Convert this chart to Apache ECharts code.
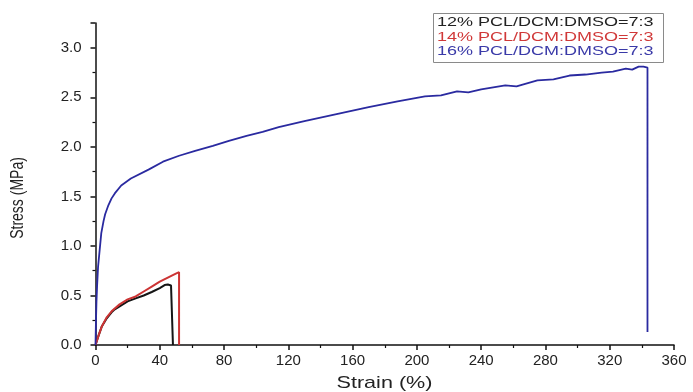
<!DOCTYPE html>
<html>
<head>
<meta charset="utf-8">
<script src="https://cdn.jsdelivr.net/npm/echarts@6/dist/echarts.min.js"></script>
<style>html,body{margin:0;padding:0;background:#fff}#c{width:693px;height:392px}</style>
</head>
<body>
<div id="c"></div>
<script>
// Series names (legend)
const seriesNames = ['12% PCL/DCM:DMSO=7:3', '14% PCL/DCM:DMSO=7:3', '16% PCL/DCM:DMSO=7:3'];
// 12% : strain (%) and stress (MPa)
const strain12 = [0, 2, 4, 7, 10, 12, 15, 20, 25, 30, 35, 40, 43, 45, 47, 48.2, 48.2];
const stress12 = [0, 0.1, 0.19, 0.27, 0.33, 0.36, 0.39, 0.44, 0.47, 0.5, 0.535, 0.575, 0.605, 0.61, 0.6, 0.595, 0];
// 14%
const strain14 = [0, 2, 4, 7, 10, 15, 20, 25, 30, 35, 40, 45, 50, 52, 52];
const stress14 = [0, 0.1, 0.19, 0.28, 0.34, 0.41, 0.46, 0.49, 0.54, 0.59, 0.64, 0.68, 0.72, 0.735, 0];
// 16%
const strain16 = [0, 0.3, 0.6, 1, 1.6, 2.6, 3.6, 5, 6, 8, 10, 12, 16, 22, 33, 42, 52, 62, 73, 83, 94, 104, 114, 130, 150, 170, 188, 205, 215, 225, 232, 240, 255, 262, 275, 285, 295, 305, 315, 322, 330, 334, 338, 341, 343.5, 343.5];
const stress16 = [0, 0.25, 0.44, 0.6, 0.79, 0.96, 1.13, 1.25, 1.32, 1.41, 1.48, 1.53, 1.61, 1.68, 1.77, 1.85, 1.91, 1.96, 2.01, 2.06, 2.11, 2.15, 2.2, 2.26, 2.33, 2.4, 2.46, 2.51, 2.52, 2.56, 2.55, 2.58, 2.62, 2.61, 2.67, 2.68, 2.72, 2.73, 2.75, 2.76, 2.79, 2.78, 2.81, 2.81, 2.8, 0.13];
// Axes
const xTicks = {min: 0, max: 360, interval: 40};
const yTicks = {min: 0, max: 3.25, interval: 0.5};
const xTitle = 'Strain (%)';
const yTitle = 'Stress (MPa)';
const colors = ['#151515', '#cc3434', '#2a2aa0'];
const legendColors = ['#222222', '#d03838', '#3a3aa8'];

const zip = (a, b) => a.map((v, i) => [v, b[i]]);
const datasets = [zip(strain12, stress12), zip(strain14, stress14), zip(strain16, stress16)];

const chart = echarts.init(document.getElementById('c'), null, {renderer: 'canvas'});
const font = 'Liberation Sans, Arial, sans-serif';
chart.setOption({
  animation: false,
  backgroundColor: '#fff',
  grid: {left: 95.5, right: 19, top: 23, bottom: 47},
  xAxis: {
    type: 'value', min: xTicks.min, max: xTicks.max, interval: xTicks.interval,
    axisLine: {show: true, lineStyle: {color: '#111', width: 1.5}},
    axisTick: {show: true, length: 5, lineStyle: {color: '#111', width: 1.5}},
    minorTick: {show: true, splitNumber: 2, length: 3, lineStyle: {color: '#111', width: 1.2}},
    splitLine: {show: false},
    axisLabel: {color: '#222', fontSize: 15, fontFamily: font, margin: 8}
  },
  yAxis: {
    type: 'value', min: yTicks.min, max: yTicks.max, interval: yTicks.interval,
    axisLine: {show: true, lineStyle: {color: '#111', width: 1.5}},
    axisTick: {show: true, length: 5, lineStyle: {color: '#111', width: 1.5}},
    minorTick: {show: true, splitNumber: 2, length: 3, lineStyle: {color: '#111', width: 1.2}},
    splitLine: {show: false},
    axisLabel: {color: '#222', fontSize: 15, fontFamily: font, margin: 14, showMaxLabel: false,
      formatter: v => v.toFixed(1)}
  },
  series: datasets.map((d, i) => ({
    name: seriesNames[i], type: 'line', data: d, showSymbol: false, symbol: 'none',
    lineStyle: {color: colors[i], width: i === 2 ? 1.8 : 2}, itemStyle: {color: colors[i]}, z: 2 + i
  })),
  graphic: [
    {type: 'rect', shape: {x: 433.5, y: 13.5, width: 230, height: 49}, style: {fill: '#fff', stroke: '#8a8a8a', lineWidth: 1}, z: 10},
    ...seriesNames.map((n, i) => ({
      type: 'text', x: 437, y: 23 + i * 14.5, scaleX: 1.5, z: 11,
      style: {text: n, fill: legendColors[i], font: '12px ' + font, textVerticalAlign: 'middle', textAlign: 'left'}
    })),
    {type: 'text', x: 384.5, y: 383, scaleX: 1.27, z: 11,
      style: {text: xTitle, fill: '#222', font: '17px ' + font, textAlign: 'center', textVerticalAlign: 'middle'}},
    {type: 'text', x: 18, y: 198, rotation: Math.PI / 2, scaleY: 1.25, z: 11,
      style: {text: yTitle, fill: '#222', font: '14px ' + font, textAlign: 'center', textVerticalAlign: 'middle'}}
  ]
});
</script>
</body>
</html>
